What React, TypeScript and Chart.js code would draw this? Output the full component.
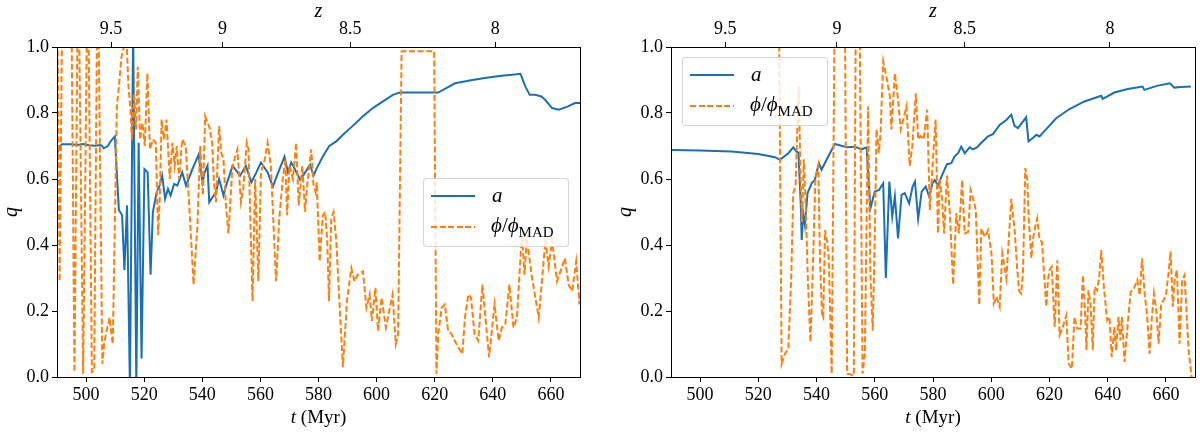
import { useEffect, useRef } from "react"
import { Chart, registerables } from "chart.js"

Chart.register(...registerables)

const BLUE = "#1b6fb3"
const ORANGE = "#ff7f0e"
const SERIF = '"Liberation Serif", "DejaVu Serif", serif'

// axis ticks
const tTicks = [500, 520, 540, 560, 580, 600, 620, 640, 660]
const qTicks = [0, 0.2, 0.4, 0.6, 0.8, 1.0]
const zTickLabels = ["9.5", "9", "8.5", "8"]
const zTickTimes = [508.6, 547.0, 590.9, 640.8]

// left panel: [t (Myr), q]
const leftSpin = [
  [490.2, 0.68], [491.0, 0.70], [491.7, 0.705], [495.0, 0.705], [497.0, 0.703], [499.0, 0.706], [501.0, 0.702],
  [503.0, 0.701], [505.0, 0.703], [505.5, 0.700], [506.1, 0.693], [507.5, 0.70], [508.5, 0.715], [509.9, 0.729],
  [511.3, 0.506], [512.4, 0.49], [513.2, 0.324], [514.1, 0.52], [515.1, -0.03], [516.2, 1.05], [517.3, -0.03],
  [518.1, 0.71], [519.1, 0.056], [520.1, 0.63], [521.2, 0.62], [522.2, 0.31], [523.0, 0.50], [524.3, 0.56],
  [525.3, 0.58], [526.2, 0.61], [527.2, 0.54], [528.2, 0.57], [529.1, 0.55], [530.3, 0.585], [531.4, 0.58],
  [533.1, 0.62], [534.4, 0.58], [536.6, 0.63], [538.7, 0.673], [540.1, 0.59], [540.8, 0.62], [541.8, 0.64],
  [542.4, 0.53], [544.7, 0.56], [545.8, 0.60], [547.3, 0.55], [548.1, 0.577], [550.4, 0.64], [551.3, 0.63],
  [553.0, 0.61], [555.0, 0.64], [556.9, 0.59], [558.6, 0.62], [560.2, 0.65], [562.5, 0.62], [564.3, 0.577],
  [566.0, 0.617], [568.3, 0.668], [569.5, 0.62], [570.6, 0.65], [571.7, 0.633], [573.7, 0.597], [575.2, 0.617],
  [577.1, 0.643], [578.3, 0.61], [579.4, 0.633], [581.5, 0.668], [583.7, 0.70], [586.1, 0.714], [588.4, 0.734],
  [591.8, 0.761], [595.3, 0.79], [598.7, 0.815], [602.2, 0.835], [605.6, 0.855], [607.9, 0.862], [621.2, 0.862],
  [627.0, 0.89], [632.5, 0.899], [637.2, 0.906], [642.9, 0.913], [646.6, 0.916], [649.5, 0.919], [651.2, 0.88],
  [652.7, 0.855], [654.6, 0.855], [656.7, 0.85], [658.0, 0.84], [660.4, 0.815], [662.7, 0.81], [665.9, 0.82],
  [668.2, 0.83], [670.5, 0.83],
]

const leftFlux = [
  [490.0, 1.25], [490.9, 0.29], [492.0, 1.3], [494.8, 1.3], [496.0, 0.015], [497.3, 1.3], [499.0, 0.01],
  [500.6, 1.3], [502.0, 0.015], [502.8, 0.02], [504.0, 1.3], [505.6, 0.04], [506.2, 0.10], [507.0, 0.137],
  [507.6, 0.16], [508.1, 0.18], [508.6, 0.14], [509.2, 0.10], [510.6, 0.82], [511.3, 0.88], [512.2, 0.97],
  [513.9, 1.03], [514.6, 0.88], [515.2, 0.82], [515.8, 0.72], [516.5, 0.86], [517.2, 0.75], [517.8, 0.94],
  [518.6, 0.72], [519.4, 0.77], [520.2, 0.70], [521.1, 0.92], [522.0, 0.69], [523.0, 0.72], [524.0, 0.71],
  [524.8, 0.43], [525.4, 0.55], [526.0, 0.78], [526.8, 0.72], [527.7, 0.78], [528.8, 0.60], [529.7, 0.71],
  [530.5, 0.64], [531.2, 0.70], [532.0, 0.60], [533.1, 0.72], [534.3, 0.70], [535.8, 0.475], [537.0, 0.28],
  [538.3, 0.455], [539.3, 0.70], [540.2, 0.55], [541.0, 0.79], [542.5, 0.755], [543.4, 0.71], [544.0, 0.59],
  [544.7, 0.53], [545.8, 0.76], [546.5, 0.68], [547.3, 0.66], [548.1, 0.525], [549.0, 0.435], [550.4, 0.64],
  [552.1, 0.69], [553.3, 0.53], [554.1, 0.57], [555.3, 0.71], [555.9, 0.69], [557.3, 0.23], [558.2, 0.60],
  [559.3, 0.29], [560.2, 0.62], [561.5, 0.66], [562.5, 0.71], [563.6, 0.64], [565.4, 0.29], [566.5, 0.48],
  [567.7, 0.60], [568.6, 0.66], [569.2, 0.49], [570.0, 0.64], [571.2, 0.60], [572.3, 0.71], [573.2, 0.52],
  [574.4, 0.64], [575.4, 0.50], [576.1, 0.58], [577.5, 0.69], [578.3, 0.58], [579.0, 0.56], [579.4, 0.59],
  [580.4, 0.35], [581.5, 0.49], [582.3, 0.50], [583.0, 0.415], [583.6, 0.23], [584.4, 0.48], [585.2, 0.50],
  [586.1, 0.415], [587.3, 0.21], [588.4, 0.03], [589.8, 0.23], [591.3, 0.33], [592.4, 0.29], [593.5, 0.31],
  [595.3, 0.32], [596.5, 0.21], [597.6, 0.25], [598.4, 0.17], [599.6, 0.27], [600.5, 0.14], [601.7, 0.24],
  [603.2, 0.15], [605.5, 0.25], [606.6, 0.10], [607.4, 0.13], [608.6, 0.987], [619.8, 0.987], [620.6, 0.01],
  [621.2, 0.13], [622.4, 0.21], [623.5, 0.22], [624.6, 0.14], [625.8, 0.13], [626.9, 0.11], [628.1, 0.09],
  [629.5, 0.07], [630.4, 0.18], [631.6, 0.25], [632.5, 0.24], [633.7, 0.13], [635.0, 0.11], [636.4, 0.28],
  [638.7, 0.06], [640.6, 0.22], [642.0, 0.11], [643.1, 0.15], [644.3, 0.16], [645.7, 0.28], [647.1, 0.15],
  [648.3, 0.18], [650.0, 0.435], [650.9, 0.31], [651.7, 0.42], [653.5, 0.30], [655.8, 0.18], [658.1, 0.415],
  [659.2, 0.335], [660.4, 0.415], [662.1, 0.29], [664.8, 0.36], [666.1, 0.28], [667.3, 0.26], [668.7, 0.35],
  [669.8, 0.22], [670.7, 0.31],
]

// right panel: [t (Myr), q]
const rightSpin = [
  [490.3, 0.688], [500.0, 0.686], [510.8, 0.683], [520.0, 0.676], [525.7, 0.666], [527.4, 0.658], [530.3, 0.678],
  [532.0, 0.696], [533.1, 0.683], [533.8, 0.68], [534.3, 0.577], [534.6, 0.516], [534.9, 0.415], [535.4, 0.496],
  [536.0, 0.46], [536.9, 0.557], [538.3, 0.587], [539.4, 0.597], [540.8, 0.648], [541.7, 0.628], [544.0, 0.668],
  [546.3, 0.706], [549.7, 0.698], [550.3, 0.696], [553.2, 0.698], [555.4, 0.69], [557.2, 0.696], [558.5, 0.511],
  [560.0, 0.562], [561.5, 0.567], [562.9, 0.587], [563.8, 0.30], [565.0, 0.592], [566.0, 0.486], [566.9, 0.547],
  [568.0, 0.42], [569.2, 0.552], [570.3, 0.557], [571.8, 0.526], [573.0, 0.577], [573.8, 0.592], [574.9, 0.48],
  [576.1, 0.562], [577.5, 0.577], [578.7, 0.547], [579.8, 0.587], [580.6, 0.597], [581.7, 0.58], [582.9, 0.607],
  [584.8, 0.645], [586.3, 0.648], [587.4, 0.668], [588.6, 0.678], [589.7, 0.698], [590.9, 0.678], [592.6, 0.696],
  [593.7, 0.69], [595.1, 0.696], [596.6, 0.71], [598.9, 0.729], [600.6, 0.736], [602.9, 0.764], [605.2, 0.779],
  [606.9, 0.795], [608.0, 0.761], [609.2, 0.754], [612.0, 0.787], [612.8, 0.714], [614.3, 0.724], [615.5, 0.734],
  [616.6, 0.729], [618.9, 0.751], [622.3, 0.784], [626.9, 0.812], [632.0, 0.835], [637.8, 0.852], [638.3, 0.843],
  [642.3, 0.862], [646.9, 0.873], [652.0, 0.88], [652.6, 0.87], [657.2, 0.883], [661.4, 0.89], [662.9, 0.877],
  [665.2, 0.879], [668.6, 0.88],
]

const rightFlux = [
  [490.0, 1.5], [526.9, 1.3], [528.0, 0.04], [529.1, 0.07], [530.3, 0.085], [531.3, 0.30], [532.0, 0.557],
  [532.8, 0.58], [533.4, 0.755], [533.9, 0.88], [534.5, 0.60], [535.0, 0.47], [535.6, 0.66], [536.2, 0.54],
  [537.0, 0.30], [537.9, 0.106], [538.8, 0.35], [539.6, 0.60], [540.6, 0.64], [541.2, 0.35], [541.9, 0.187],
  [542.3, 0.18], [542.9, 0.445], [543.6, 0.41], [544.2, 0.36], [545.2, 0.01], [546.4, 1.3], [549.6, 1.3],
  [550.5, 0.01], [552.8, 0.005], [553.6, 1.3], [554.6, 1.3], [555.8, 0.01], [556.6, 0.07], [557.7, 0.82],
  [558.5, 0.31], [559.3, 0.14], [560.0, 0.42], [560.6, 0.75], [561.4, 0.68], [562.0, 0.74], [562.9, 0.956],
  [564.0, 0.91], [565.2, 0.85], [565.7, 0.75], [566.9, 0.92], [568.0, 0.84], [568.9, 0.75], [569.8, 0.78],
  [570.9, 0.82], [572.0, 0.64], [572.9, 0.70], [574.1, 0.86], [574.9, 0.72], [575.7, 0.73], [576.8, 0.72],
  [578.0, 0.81], [578.9, 0.506], [580.0, 0.663], [580.9, 0.78], [581.7, 0.435], [582.3, 0.60], [583.1, 0.54],
  [583.8, 0.435], [584.8, 0.61], [585.8, 0.496], [586.9, 0.28], [588.0, 0.496], [588.9, 0.435], [590.0, 0.597],
  [590.9, 0.435], [592.1, 0.44], [592.9, 0.567], [593.8, 0.54], [594.7, 0.506], [595.9, 0.218], [596.6, 0.45],
  [597.8, 0.425], [598.9, 0.445], [600.1, 0.374], [600.9, 0.223], [601.8, 0.243], [602.9, 0.213], [603.8, 0.374],
  [605.2, 0.30], [606.9, 0.54], [608.1, 0.44], [608.9, 0.33], [609.6, 0.26], [610.3, 0.253], [610.9, 0.314],
  [611.7, 0.633], [612.4, 0.597], [612.9, 0.476], [613.8, 0.36], [614.3, 0.415], [615.1, 0.455], [615.8, 0.48],
  [616.6, 0.415], [617.4, 0.41], [618.3, 0.294], [618.9, 0.213], [619.5, 0.294], [620.0, 0.324], [620.8, 0.334],
  [621.8, 0.152], [622.7, 0.354], [623.5, 0.127], [624.6, 0.152], [625.8, 0.187], [626.6, 0.04], [627.7, 0.025],
  [628.6, 0.182], [629.5, 0.147], [630.7, 0.147], [631.5, 0.309], [632.3, 0.182], [632.7, 0.081], [633.4, 0.263],
  [634.1, 0.223], [634.9, 0.081], [635.5, 0.273], [636.4, 0.263], [637.2, 0.314], [637.8, 0.385], [638.7, 0.273],
  [639.8, 0.172], [640.6, 0.182], [641.4, 0.061], [642.3, 0.152], [642.9, 0.081], [643.7, 0.182], [644.4, 0.111],
  [644.9, 0.182], [645.8, 0.046], [647.0, 0.172], [647.9, 0.258], [649.0, 0.268], [650.2, 0.294], [651.0, 0.248],
  [651.8, 0.36], [652.7, 0.253], [653.6, 0.182], [654.4, 0.071], [655.2, 0.182], [655.9, 0.253], [656.7, 0.202],
  [657.5, 0.101], [658.4, 0.223], [659.3, 0.233], [660.1, 0.253], [660.9, 0.314], [661.6, 0.38], [662.4, 0.213],
  [663.0, 0.294], [663.8, 0.324], [664.7, 0.101], [665.6, 0.294], [666.4, 0.309], [667.0, 0.213], [667.8, 0.081],
  [668.7, 0.01], [669.5, -0.06],
]

// black box around the plot area + mixed-style x label
const framePlugin = {
  id: "frame",
  afterDraw(chart: any) {
    const { ctx, chartArea: a } = chart
    ctx.save()
    ctx.strokeStyle = "#000"
    ctx.lineWidth = 1
    ctx.strokeRect(Math.round(a.left) + 0.5, Math.round(a.top) + 0.5, Math.round(a.right - a.left), Math.round(a.bottom - a.top))

    const cx = (a.left + a.right) / 2
    ctx.fillStyle = "#000"
    ctx.textBaseline = "middle"
    ctx.textAlign = "left"
    ctx.font = `italic 19px ${SERIF}`
    const w1 = ctx.measureText("t").width
    ctx.font = `19px ${SERIF}`
    const w2 = ctx.measureText(" (Myr)").width
    const x0 = cx - (w1 + w2) / 2
    ctx.font = `italic 19px ${SERIF}`
    ctx.fillText("t", x0, 418)
    ctx.font = `19px ${SERIF}`
    ctx.fillText(" (Myr)", x0 + w1, 418)
    ctx.restore()
  },
}

const tickFont = { family: SERIF, size: 18 }
const titleFont = { family: SERIF, size: 20, style: "italic" as const }

function toPoints(rows: number[][]) {
  return rows.map(([x, y]) => ({ x, y }))
}

function Panel({ spin, flux, padLeft, padRight }: { spin: number[][]; flux: number[][]; padLeft: number; padRight: number }) {
  const chartRef = useRef<HTMLCanvasElement>(null)

  useEffect(() => {
    if (!chartRef.current) return
    const chart = new Chart(chartRef.current, {
      type: "line",
      data: {
        datasets: [
          {
            label: "phi/phi_MAD",
            data: toPoints(flux),
            borderColor: ORANGE,
            borderWidth: 2,
            borderDash: [6, 2.6],
            pointRadius: 0,
            fill: false,
          },
          {
            label: "a",
            data: toPoints(spin),
            borderColor: BLUE,
            borderWidth: 2,
            pointRadius: 0,
            fill: false,
          },
        ],
      },
      options: {
        animation: false,
        responsive: true,
        maintainAspectRatio: false,
        layout: { padding: { left: padLeft, right: padRight, top: 0, bottom: 0 } },
        plugins: { legend: { display: false }, tooltip: { enabled: false } },
        elements: { line: { tension: 0 } },
        scales: {
          x: {
            type: "linear",
            position: "bottom",
            min: 490,
            max: 670,
            afterBuildTicks: (s: any) => {
              s.ticks = tTicks.map((v) => ({ value: v }))
            },
            afterFit: (s: any) => {
              s.height = 59
            },
            ticks: { font: tickFont, color: "#000", padding: 2, maxRotation: 0, autoSkip: false },
            grid: { drawOnChartArea: false, drawTicks: true, tickLength: 5, tickColor: "#000" },
            border: { display: false },
          },
          x2: {
            type: "linear",
            position: "top",
            min: 490,
            max: 670,
            afterBuildTicks: (s: any) => {
              s.ticks = zTickTimes.map((v) => ({ value: v }))
            },
            afterFit: (s: any) => {
              s.height = 47
            },
            ticks: {
              font: tickFont,
              color: "#000",
              padding: 2,
              maxRotation: 0,
              autoSkip: false,
              callback: (_v: any, i: number) => zTickLabels[i],
            },
            grid: { drawOnChartArea: false, drawTicks: true, tickLength: 5, tickColor: "#000" },
            border: { display: false },
            title: { display: true, text: "z", font: titleFont, color: "#000", padding: { top: 0, bottom: 0 } },
          },
          y: {
            type: "linear",
            min: 0,
            max: 1,
            afterBuildTicks: (s: any) => {
              s.ticks = qTicks.map((v) => ({ value: v }))
            },
            afterFit: (s: any) => {
              s.width = 57
            },
            ticks: { font: tickFont, color: "#000", padding: 3, callback: (v: any) => Number(v).toFixed(1) },
            grid: { drawOnChartArea: false, drawTicks: true, tickLength: 5, tickColor: "#000" },
            border: { display: false },
            title: { display: true, text: "q", font: titleFont, color: "#000", padding: { top: 0, bottom: 0 } },
          },
        },
      },
      plugins: [framePlugin],
    } as any)

    return () => {
      chart.destroy()
    }
  }, [spin, flux, padLeft, padRight])

  return <canvas ref={chartRef} />
}

function Legend({ left, top }: { left: number; top: number }) {
  return (
    <div
      style={{
        position: "absolute",
        left,
        top,
        width: 146,
        height: 69,
        boxSizing: "border-box",
        border: "1px solid rgba(204,204,204,0.8)",
        borderRadius: 4,
        background: "rgba(255,255,255,0.8)",
        fontFamily: SERIF,
        color: "#000",
      }}
    >
      <div style={{ position: "absolute", left: 7, top: 16, width: 44, height: 2, background: BLUE }} />
      <span style={{ position: "absolute", left: 68, top: 3, fontSize: 21, fontStyle: "italic", lineHeight: "26px" }}>a</span>
      <div
        style={{
          position: "absolute",
          left: 7,
          top: 47,
          width: 44,
          height: 2,
          background: `repeating-linear-gradient(90deg, ${ORANGE} 0 6px, transparent 6px 8.6px)`,
        }}
      />
      <span style={{ position: "absolute", left: 67, top: 33, fontSize: 21, lineHeight: "26px", whiteSpace: "nowrap" }}>
        <i>ϕ</i>/<i>ϕ</i>
        <span style={{ fontSize: 15, position: "relative", top: 5 }}>MAD</span>
      </span>
    </div>
  )
}

export default function App() {
  return (
    <div style={{ position: "absolute", left: 0, top: 0, width: 1200, height: 436, background: "#fff" }}>
      <div style={{ position: "absolute", left: 0, top: 0, width: 600, height: 436 }}>
        <Panel spin={leftSpin} flux={leftFlux} padLeft={0} padRight={20} />
      </div>
      <div style={{ position: "absolute", left: 600, top: 0, width: 600, height: 436 }}>
        <Panel spin={rightSpin} flux={rightFlux} padLeft={14} padRight={5} />
      </div>
      <Legend left={423} top={178} />
      <Legend left={682} top={57} />
    </div>
  )
}
